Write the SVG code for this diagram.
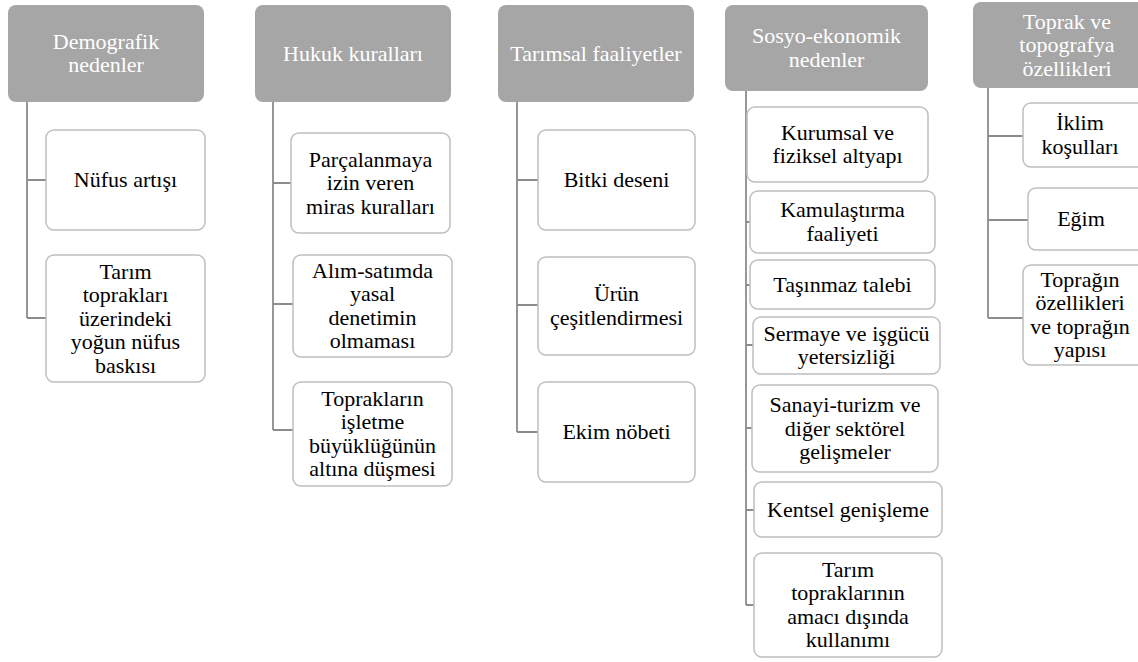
<svg xmlns="http://www.w3.org/2000/svg" width="1138" height="662" viewBox="0 0 1138 662">
<style>
.h{fill:#a6a6a6;stroke:none}
.b{fill:#fff;stroke:#bfbfbf;stroke-width:1.5}
text{font-family:"Liberation Serif","Times New Roman",serif;font-size:22px;text-anchor:middle}
.ht{fill:#fff}
.bt{fill:#000}
.c{stroke:#8c8c8c;stroke-width:1.8;fill:none}
</style>
<rect width="1138" height="662" fill="#fff"/>
<g id="connectors">
<path class="c" d="M27 102V318M27 180H46M27 318H46"/>
<path class="c" d="M273 102V430M273 183H291M273 304H293M273 430H293"/>
<path class="c" d="M517 102V432M517 180H538M517 305H538M517 432H538"/>
<path class="c" d="M746 91V605M746 144H747M746 222H750M746 285H750M746 345H753M746 428H752M746 510H754M746 605H754"/>
<path class="c" d="M988 88V318M988 136H1023M988 220H1028M988 318H1023"/>
</g>
<g id="h1"><rect class="h" x="8" y="5" width="196" height="97" rx="8"/><text class="ht" font-family="Liberation Serif, serif" x="106" y="48.75"><tspan x="106">Demografik</tspan><tspan x="106" dy="23.5">nedenler</tspan></text></g>
<g id="n1a"><rect class="b" x="46" y="130" width="159" height="100" rx="8"/><text class="bt" font-family="Liberation Serif, serif" x="125.5" y="187">Nüfus artışı</text></g>
<g id="n1b"><rect class="b" x="46" y="255" width="159" height="127" rx="8"/><text class="bt" font-family="Liberation Serif, serif" x="125.5" y="278.5"><tspan x="125.5">Tarım</tspan><tspan x="125.5" dy="23.5">toprakları</tspan><tspan x="125.5" dy="23.5">üzerindeki</tspan><tspan x="125.5" dy="23.5">yoğun nüfus</tspan><tspan x="125.5" dy="23.5">baskısı</tspan></text></g>

<g id="h2"><rect class="h" x="255" y="5" width="196" height="97" rx="8"/><text class="ht" font-family="Liberation Serif, serif" x="353" y="60.5">Hukuk kuralları</text></g>
<g id="n2a"><rect class="b" x="291" y="133" width="159" height="100" rx="8"/><text class="bt" font-family="Liberation Serif, serif" x="370.5" y="166.5"><tspan x="370.5">Parçalanmaya</tspan><tspan x="370.5" dy="23.5">izin veren</tspan><tspan x="370.5" dy="23.5">miras kuralları</tspan></text></g>
<g id="n2b"><rect class="b" x="293" y="255" width="159" height="102" rx="8"/><text class="bt" font-family="Liberation Serif, serif" x="372.5" y="277.75"><tspan x="372.5">Alım-satımda</tspan><tspan x="372.5" dy="23.5">yasal</tspan><tspan x="372.5" dy="23.5">denetimin</tspan><tspan x="372.5" dy="23.5">olmaması</tspan></text></g>
<g id="n2c"><rect class="b" x="293" y="382" width="159" height="104" rx="8"/><text class="bt" font-family="Liberation Serif, serif" x="372.5" y="405.75"><tspan x="372.5">Toprakların</tspan><tspan x="372.5" dy="23.5">işletme</tspan><tspan x="372.5" dy="23.5">büyüklüğünün</tspan><tspan x="372.5" dy="23.5">altına düşmesi</tspan></text></g>

<g id="h3"><rect class="h" x="498" y="5" width="196" height="97" rx="8"/><text class="ht" font-family="Liberation Serif, serif" x="596" y="60.5">Tarımsal faaliyetler</text></g>
<g id="n3a"><rect class="b" x="538" y="130" width="157" height="100" rx="8"/><text class="bt" font-family="Liberation Serif, serif" x="616.5" y="187">Bitki deseni</text></g>
<g id="n3b"><rect class="b" x="538" y="257" width="157" height="98" rx="8"/><text class="bt" font-family="Liberation Serif, serif" x="616.5" y="301.25"><tspan x="616.5">Ürün</tspan><tspan x="616.5" dy="23.5">çeşitlendirmesi</tspan></text></g>
<g id="n3c"><rect class="b" x="538" y="382" width="157" height="100" rx="8"/><text class="bt" font-family="Liberation Serif, serif" x="616.5" y="439">Ekim nöbeti</text></g>

<g id="h4"><rect class="h" x="725" y="5" width="203" height="86" rx="8"/><text class="ht" font-family="Liberation Serif, serif" x="826.5" y="43.25"><tspan x="826.5">Sosyo-ekonomik</tspan><tspan x="826.5" dy="23.5">nedenler</tspan></text></g>
<g id="n4a"><rect class="b" x="747" y="107" width="181" height="75" rx="8"/><text class="bt" font-family="Liberation Serif, serif" x="837.5" y="139.75"><tspan x="837.5">Kurumsal ve</tspan><tspan x="837.5" dy="23.5">fiziksel altyapı</tspan></text></g>
<g id="n4b"><rect class="b" x="750" y="191" width="185" height="62" rx="8"/><text class="bt" font-family="Liberation Serif, serif" x="842.5" y="217.25"><tspan x="842.5">Kamulaştırma</tspan><tspan x="842.5" dy="23.5">faaliyeti</tspan></text></g>
<g id="n4c"><rect class="b" x="750" y="260" width="185" height="49" rx="8"/><text class="bt" font-family="Liberation Serif, serif" x="842.5" y="291.5">Taşınmaz talebi</text></g>
<g id="n4d"><rect class="b" x="753" y="317" width="187" height="57" rx="8"/><text class="bt" font-family="Liberation Serif, serif" x="846.5" y="340.75"><tspan x="846.5">Sermaye ve işgücü</tspan><tspan x="846.5" dy="23.5">yetersizliği</tspan></text></g>
<g id="n4e"><rect class="b" x="752" y="385" width="186" height="87" rx="8"/><text class="bt" font-family="Liberation Serif, serif" x="845" y="412"><tspan x="845">Sanayi-turizm ve</tspan><tspan x="845" dy="23.5">diğer sektörel</tspan><tspan x="845" dy="23.5">gelişmeler</tspan></text></g>
<g id="n4f"><rect class="b" x="754" y="482" width="188" height="55" rx="8"/><text class="bt" font-family="Liberation Serif, serif" x="848" y="516.5">Kentsel genişleme</text></g>
<g id="n4g"><rect class="b" x="754" y="553" width="188" height="104" rx="8"/><text class="bt" font-family="Liberation Serif, serif" x="848" y="576.75"><tspan x="848">Tarım</tspan><tspan x="848" dy="23.5">topraklarının</tspan><tspan x="848" dy="23.5">amacı dışında</tspan><tspan x="848" dy="23.5">kullanımı</tspan></text></g>

<g id="h5"><rect class="h" x="973" y="2" width="188" height="86" rx="8"/><text class="ht" font-family="Liberation Serif, serif" x="1067" y="28.5"><tspan x="1067">Toprak ve</tspan><tspan x="1067" dy="23.5">topografya</tspan><tspan x="1067" dy="23.5">özellikleri</tspan></text></g>
<g id="n5a"><rect class="b" x="1023" y="103" width="125" height="64" rx="8"/><text class="bt" font-family="Liberation Serif, serif" x="1080" y="130.25"><tspan x="1080">İklim</tspan><tspan x="1080" dy="23.5">koşulları</tspan></text></g>
<g id="n5b"><rect class="b" x="1028" y="188" width="125" height="62" rx="8"/><text class="bt" font-family="Liberation Serif, serif" x="1081" y="226">Eğim</text></g>
<g id="n5c"><rect class="b" x="1023" y="265" width="125" height="100" rx="8"/><text class="bt" font-family="Liberation Serif, serif" x="1080" y="286.75"><tspan x="1080">Toprağın</tspan><tspan x="1080" dy="23.5">özellikleri</tspan><tspan x="1080" dy="23.5">ve toprağın</tspan><tspan x="1080" dy="23.5">yapısı</tspan></text></g>
</svg>
